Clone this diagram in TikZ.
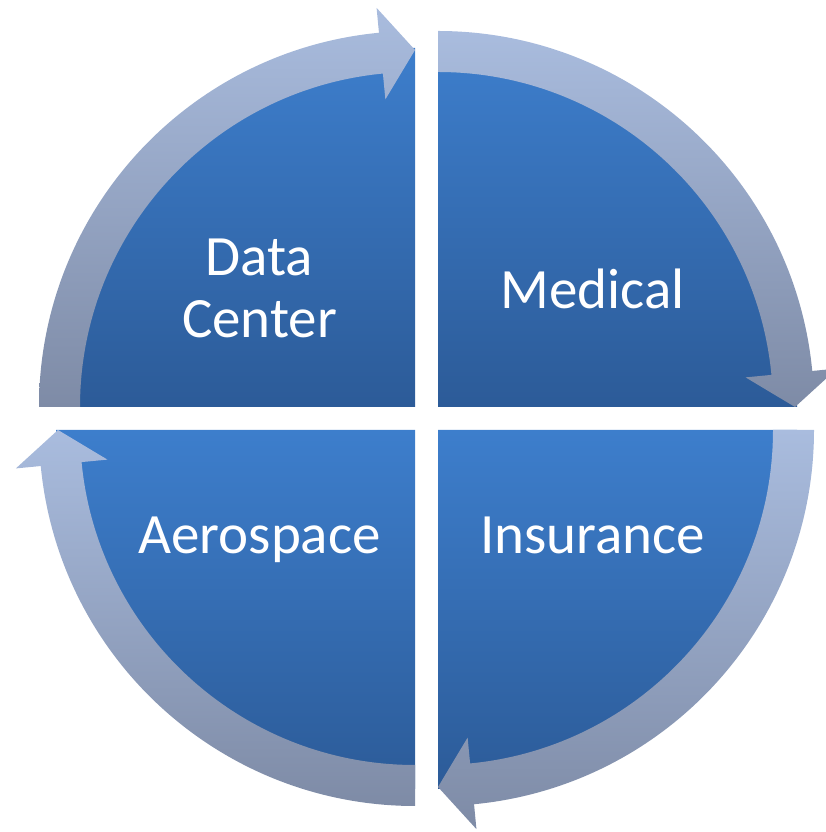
\documentclass[tikz,border=0pt]{standalone}
\usepackage{fontspec}
\setmainfont{Carlito}
\usetikzlibrary{calc}
\definecolor{pietop}{HTML}{3D7ECC}
\definecolor{piebot}{HTML}{2C5B98}
\definecolor{arrtop}{HTML}{A9BCDE}
\definecolor{arrbot}{HTML}{7E8BA6}
\tikzset{
  segment/.style={top color=pietop, bottom color=piebot, draw=none},
  ringarrow/.style={top color=arrtop, bottom color=arrbot, draw=none},
  label/.style={text=white, font=\fontsize{57}{62}\selectfont, align=center, anchor=base}
}
% curved arrow around centre #1: tail at angle #2, head base at #3, tip at #4
\newcommand{\ringarrowpath}[4]{%
  \path[ringarrow] ($(#1)+(#2:376pt)$) arc[start angle=#2, end angle=#3, radius=376pt]
    -- ($(#1)+(#3:401pt)$) -- ($(#1)+(#4:357pt)$) -- ($(#1)+(#3:309pt)$)
    -- ($(#1)+(#3:335pt)$) arc[start angle=#3, end angle=#2, radius=335pt] -- cycle;}
\begin{document}
\begin{tikzpicture}[x=1pt,y=1pt]
\useasboundingbox (0,0) rectangle (825,832);
\coordinate (c1) at (415,425);
\coordinate (c2) at (438,425);
\coordinate (c3) at (438,402);
\coordinate (c4) at (415,402);
% four quarter segments
\path[segment] (c1) -- ++(180:359pt) arc[start angle=180, end angle=90, radius=359pt] -- cycle;
\path[segment] (c2) -- ++(90:359pt) arc[start angle=90, end angle=0, radius=359pt] -- cycle;
\path[segment] (c3) -- ++(0:359pt) arc[start angle=0, end angle=-90, radius=359pt] -- cycle;
\path[segment] (c4) -- ++(270:359pt) arc[start angle=270, end angle=180, radius=359pt] -- cycle;
% clockwise arrows
\ringarrowpath{c1}{180}{95.5}{90}
\ringarrowpath{c2}{90}{5.5}{0}
\ringarrowpath{c3}{0}{-84.5}{-90}
\ringarrowpath{c4}{270}{185.5}{180}
% labels
\node[label] (datacenter) at (259.5,494) {Data\\Center};
\node[label] (medical) at (592.5,523) {Medical};
\node[label] (aerospace) at (259.5,278) {Aerospace};
\node[label] (insurance) at (592.5,278) {Insurance};
\end{tikzpicture}
\end{document}
